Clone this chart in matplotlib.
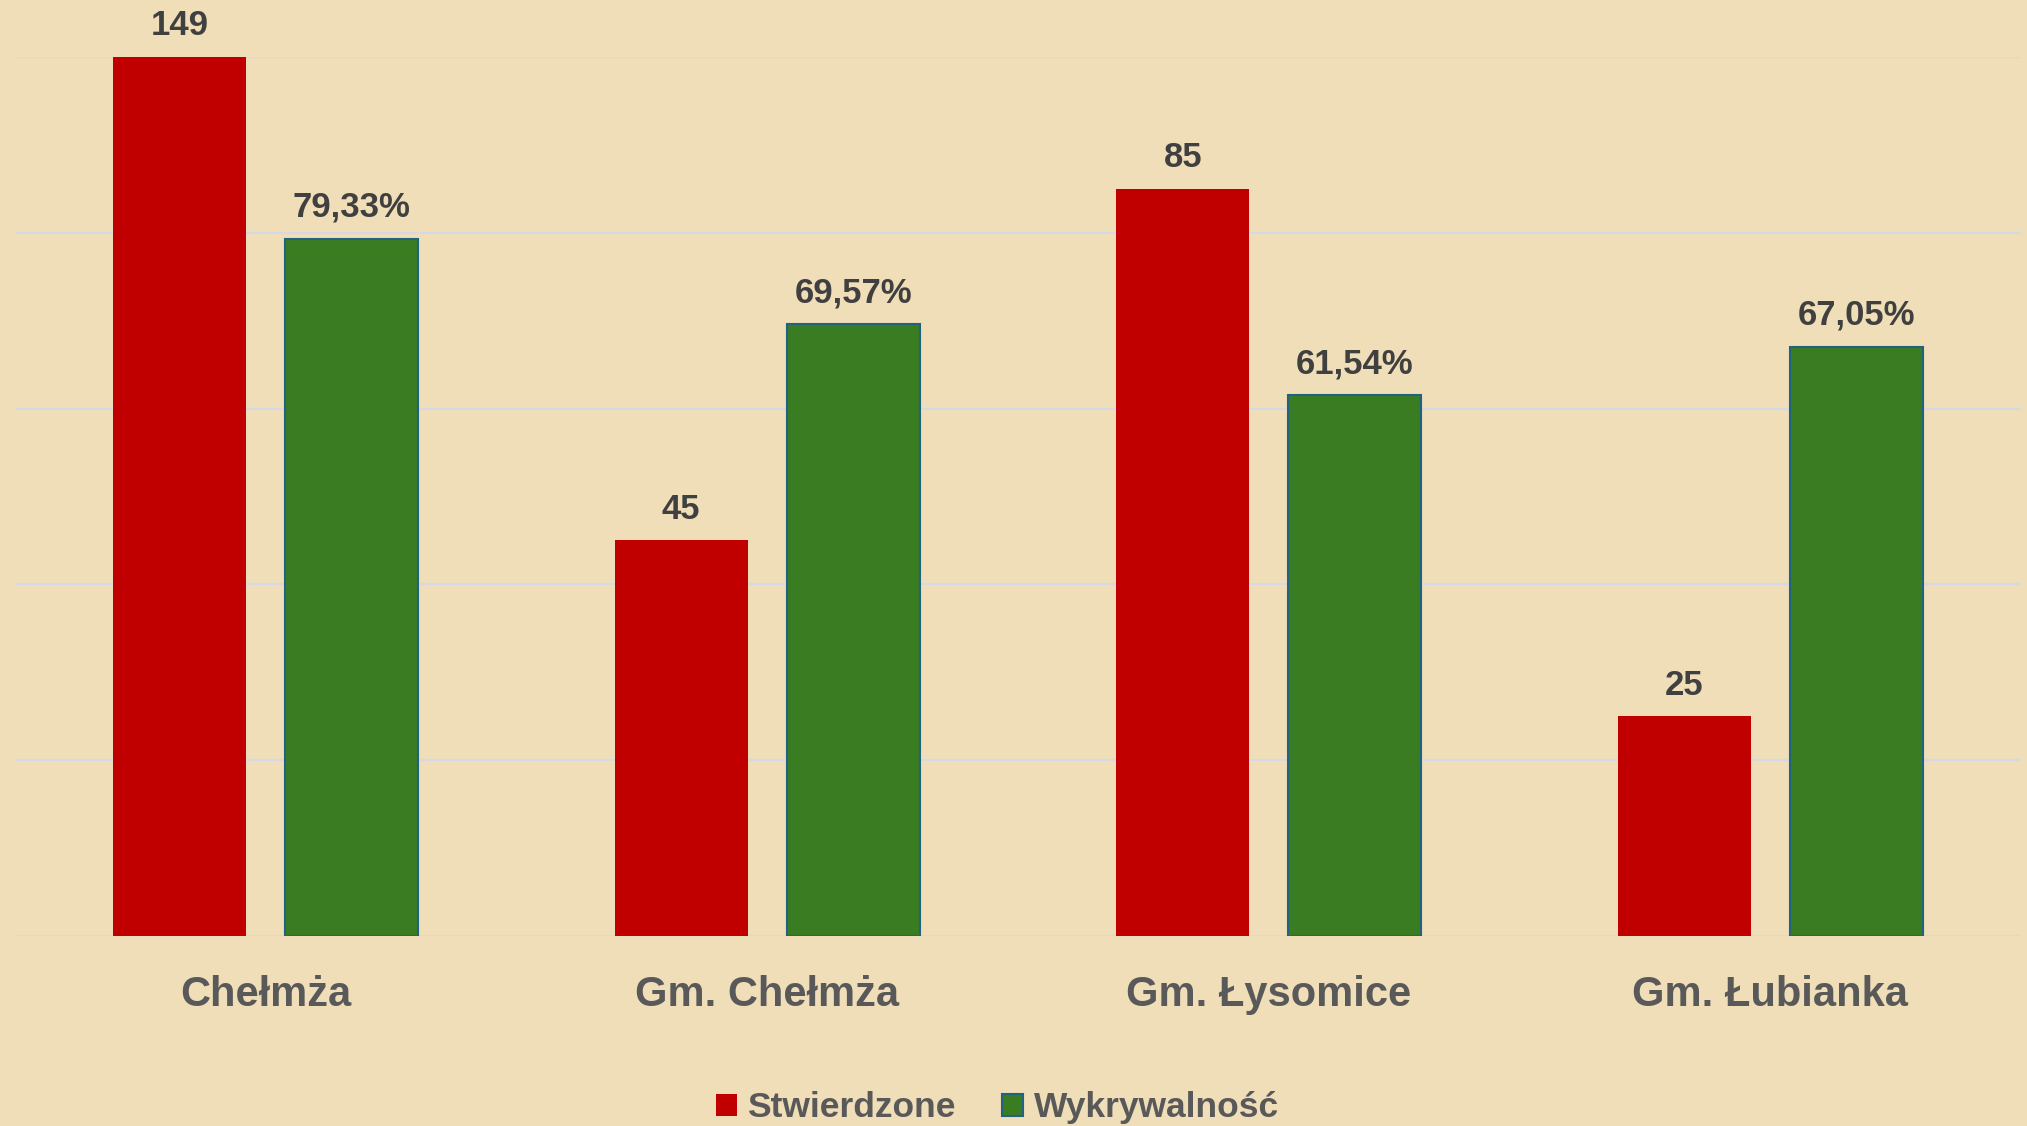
import numpy as np
import matplotlib
matplotlib.use("Agg")
import matplotlib.pyplot as plt

# data
categories = ["Chełmża", "Gm. Chełmża", "Gm. Łysomice", "Gm. Łubianka"]
stwierdzone = [149, 45, 85, 25]
wykrywalnosc = [79.33, 69.57, 61.54, 67.05]
series_names = ["Stwierdzone", "Wykrywalność"]

BG = "#F0DEB8"
RED = "#C00000"
GREEN = "#3A7C22"
GREEN_EDGE = "#1F6380"
LABEL_DARK = "#404040"
LABEL_GRAY = "#595959"

plt.rcParams['font.family'] = ['Liberation Sans', 'DejaVu Sans']
plt.rcParams['font.weight'] = 'bold'

fig = plt.figure(figsize=(20.27, 11.26), dpi=100, facecolor=BG)
ax = fig.add_axes([0.0074, 0.1687, 0.9896, 0.7807])
ax.set_facecolor(BG)

x = np.arange(len(categories))
w = 0.265
off = 0.1715

red_bars = ax.bar(x - off, stwierdzone, w, color=RED, label=series_names[0], zorder=3)
green_bars = ax.bar(x + off, wykrywalnosc, w, color=GREEN, edgecolor=GREEN_EDGE,
                    linewidth=1.5, label=series_names[1], zorder=3)

ax.set_ylim(0, 100)
ax.set_xlim(-0.5, len(categories) - 0.5)
ax.set_yticks(np.arange(0, 101, 20))
ax.yaxis.grid(True, color="#D5DAE2", linewidth=1.6, zorder=0)
ax.set_yticklabels([])
ax.tick_params(axis="y", length=0)
for s in ax.spines.values():
    s.set_visible(False)

ax.set_xticks(x)
ax.set_xticklabels(categories, fontsize=30, color=LABEL_GRAY, fontweight="bold")
ax.tick_params(axis="x", length=0, pad=28)

# value labels above bars (the 149 bar is clipped at the top of the axis)
for b, v in zip(red_bars, stwierdzone):
    ax.annotate(f"{v}", (b.get_x() + b.get_width() / 2, min(v, 100)),
                xytext=(0, 22.5), textcoords="offset points", ha="center", va="center",
                fontsize=25, color=LABEL_DARK, fontweight="bold", annotation_clip=False)
for b, v in zip(green_bars, wykrywalnosc):
    txt = f"{v:.2f}".replace(".", ",") + "%"
    ax.annotate(txt, (b.get_x() + b.get_width() / 2, v),
                xytext=(0, 22.5), textcoords="offset points", ha="center", va="center",
                fontsize=25, color=LABEL_DARK, fontweight="bold", annotation_clip=False)

leg = fig.legend(handles=[red_bars, green_bars], labels=series_names, loc="center",
                 bbox_to_anchor=(0.492, 0.016), ncol=2, frameon=False,
                 fontsize=25.5, handlelength=0.6, handleheight=0.6,
                 handletextpad=0.3, columnspacing=1.3, labelcolor=LABEL_GRAY)

fig.savefig("out.png", dpi=100, facecolor=BG)
